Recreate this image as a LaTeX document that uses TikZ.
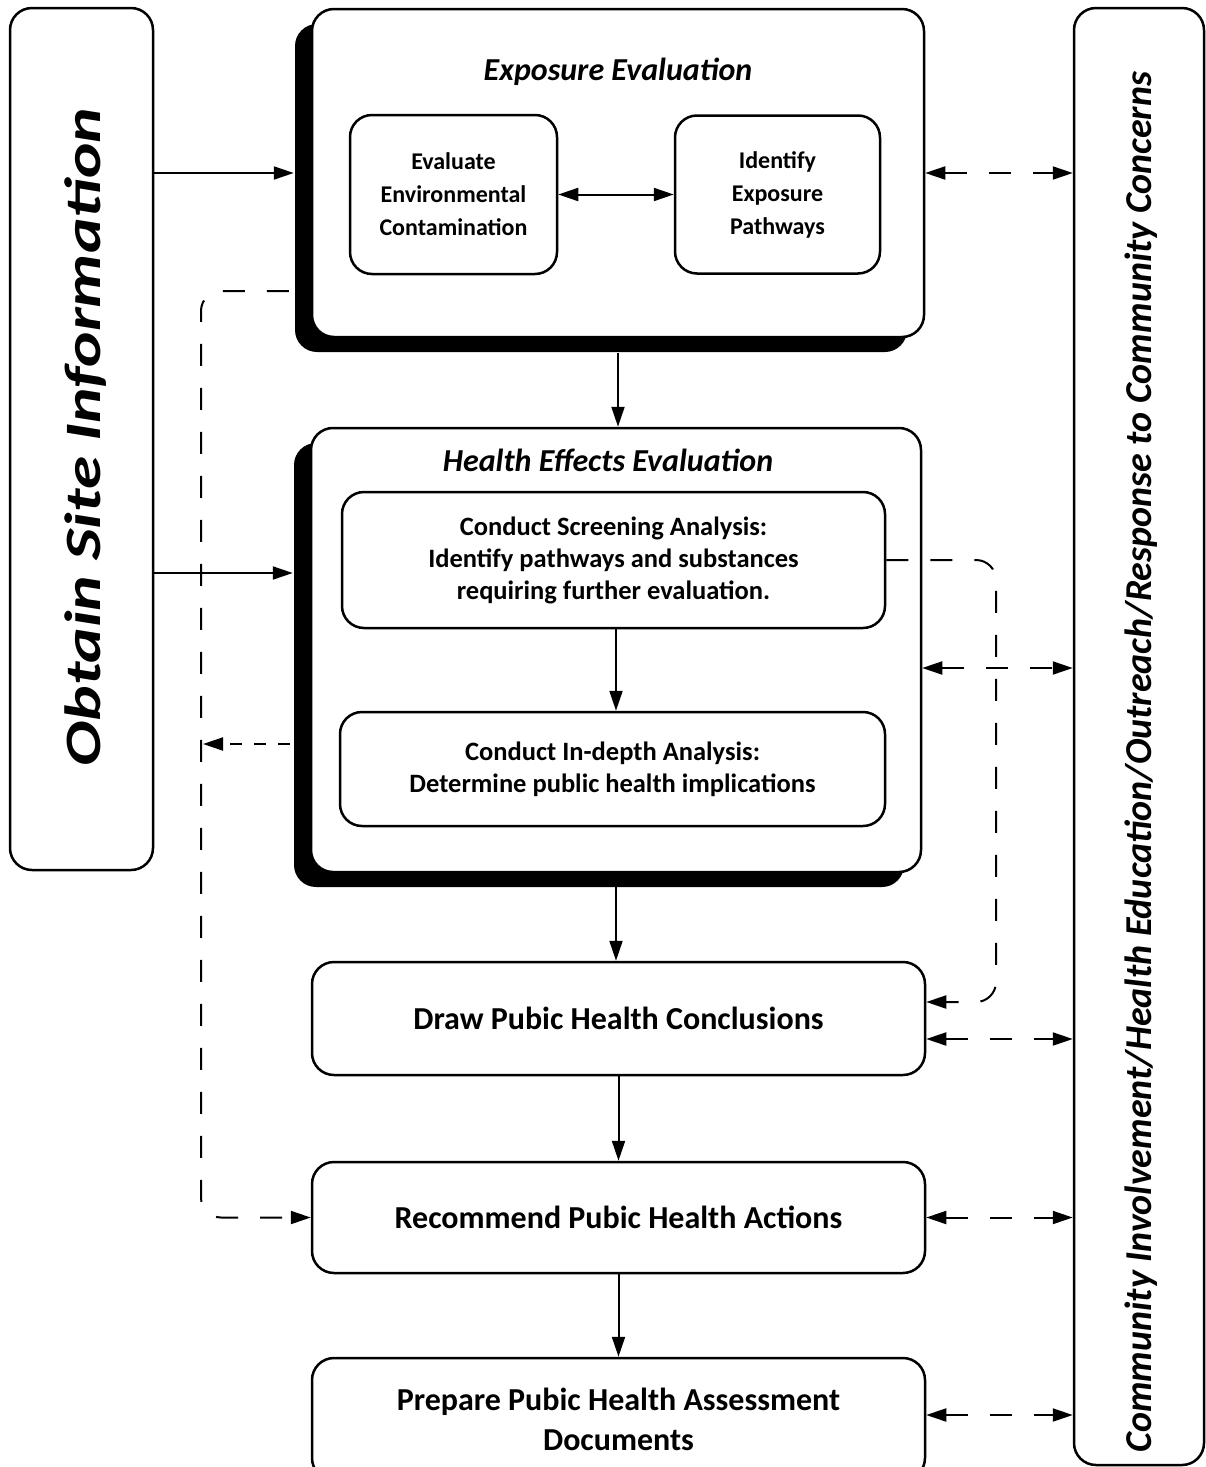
\documentclass[tikz,border=0pt]{standalone}
\usepackage{fontspec}
\usepackage{graphicx}
\setmainfont{Carlito}
\usetikzlibrary{positioning,arrows.meta,shadows}

\tikzset{box/.style={draw,line width=2.5pt,rounded corners=22pt,fill=white,align=center,inner sep=0pt}}
\tikzset{bigbox/.style={box,drop shadow={shadow xshift=-17pt,shadow yshift=-15pt,fill=black,opacity=1}}}
\tikzset{arr/.style={line width=2pt,-{Triangle[length=20pt,width=13pt]}}}
\tikzset{dbl/.style={line width=2pt,{Triangle[length=20pt,width=13pt]}-{Triangle[length=20pt,width=13pt]}}}
\tikzset{longdash/.style={dash pattern=on 22pt off 22pt}}
\tikzset{shortdash/.style={dash pattern=on 12pt off 12pt}}
\tikzset{ttl/.style={font=\fontsize{32}{38}\selectfont\bfseries\itshape}}
\tikzset{small/.style={font=\fontsize{24}{33}\selectfont\bfseries}}
\tikzset{mid/.style={font=\fontsize{26.5}{32}\selectfont\bfseries}}
\tikzset{large/.style={font=\fontsize{32}{40}\selectfont\bfseries}}

\begin{document}
\begin{tikzpicture}[x=1pt,y=-1pt]
	\useasboundingbox (0,0) rectangle (1205,1467);

	% side columns
	\node[box,rotate=90,minimum width=862pt,minimum height=143pt] (site) at (81.5,439) {};
	\node[rotate=90,font=\fontsize{51}{60}\selectfont\bfseries\itshape] (sitetext) at (86,437) {\scalebox{1.32}[1]{Obtain Site Information}};
	\node[box,rotate=90,minimum width=1457pt,minimum height=130pt] (community) at (1139,736.5) {};
	\node[rotate=90,font=\fontsize{38}{46}\selectfont\bfseries\itshape] (commtext) at (1141,762) {Community Involvement/Health Education/Outreach/Response to Community Concerns};

	%% Exposure evaluation
	\node[bigbox,minimum width=612pt,minimum height=328pt] (expo) at (618,173) {};
	\node[ttl] (expottl) at ([yshift=-64pt]expo.north) {Exposure Evaluation};
	\node[box,small,minimum width=207pt,minimum height=159pt] (env) at (453.5,194.5) {Evaluate\\Environmental\\Contamination};
	\node[box,small,minimum width=205pt,minimum height=158pt] (path) at (777.5,194.5) {Identify\\Exposure\\Pathways};

	%% Health effects evaluation
	\node[bigbox,minimum width=610pt,minimum height=444pt] (health) at (616,650) {};
	\node[ttl] (healthttl) at ([xshift=-8pt,yshift=-34pt]health.north) {Health Effects Evaluation};
	\node[box,mid,minimum width=543pt,minimum height=136pt] (screen) at (613.5,560) {Conduct Screening Analysis:\\Identify pathways and substances\\requiring further evaluation.};
	\node[box,mid,minimum width=545pt,minimum height=114pt] (depth) at (612.5,769) {Conduct In-depth Analysis:\\Determine public health implications};

	% lower steps
	\node[box,large,minimum width=613pt,minimum height=113pt] (concl) at (618.5,1018.5) {Draw Pubic Health Conclusions};
	\node[box,large,minimum width=613pt,minimum height=111pt] (recom) at (618.5,1217.5) {Recommend Pubic Health Actions};
	\node[box,large,minimum width=613pt,minimum height=122pt] (prep) at (618.5,1419) {Prepare Pubic Health Assessment\\Documents};

	% solid arrows
	\draw[arr] (site.south |- expo.west) -- ([xshift=-17pt]expo.west);
	\draw[arr] (site.south |- 0,573) -- ([xshift=-17pt]health.west |- 0,573);
	\draw[dbl] (env) -- (path);
	\draw[arr] ([yshift=-15pt]expo.south) -- (expo.south |- health.north);
	\draw[arr] (screen.south -| health) -- (depth.north -| health);
	\draw[arr] ([yshift=-14pt]health.south) -- (health.south |- concl.north);
	\draw[arr] (concl) -- (recom);
	\draw[arr] (recom) -- (recom.south |- prep.north);

	% dashed links to community column
	\draw[dbl,longdash] (expo.east) -- (community.north |- expo.east);
	\draw[dbl,longdash] (health.east |- 0,668) -- (community.north |- 0,668);
	\draw[dbl,longdash] (concl.east |- 0,1039) -- (community.north |- 0,1039);
	\draw[dbl,longdash] (recom.east) -- (community.north |- recom.east);
	\draw[dbl,longdash] (prep.east |- 0,1415) -- (community.north |- 0,1415);

	% dashed feedback loops
	\draw[arr,longdash,rounded corners=20pt] ([xshift=-22pt]expo.west |- 0,291) -| (201,0 |- recom.west) -- (recom.west);
	\draw[arr,shortdash] ([xshift=-20pt]health.west |- 0,744) -- (203,744);
	\draw[arr,longdash,rounded corners=20pt] (screen.east) -| (996,1002) -- (concl.east |- 0,1002);
\end{tikzpicture}
\end{document}
